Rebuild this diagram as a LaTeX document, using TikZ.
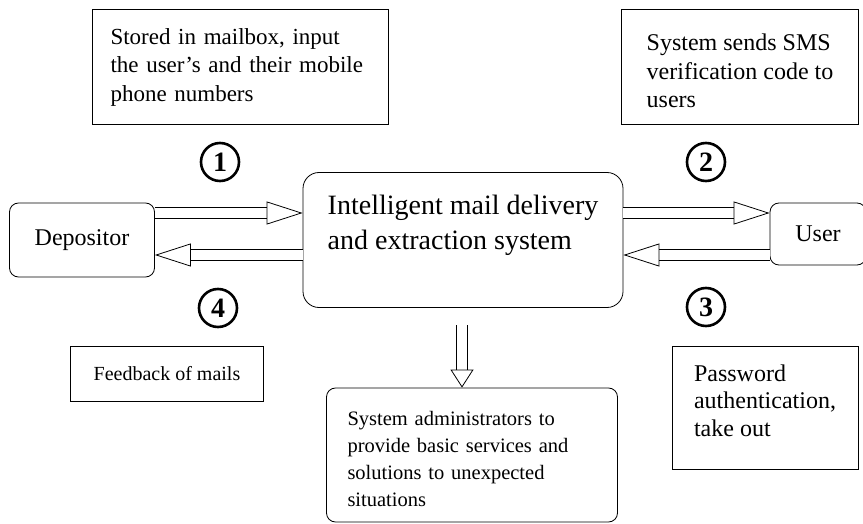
\documentclass[tikz,border=0pt]{standalone}
\usepackage{fontspec}
\setmainfont{Liberation Serif}
\usetikzlibrary{positioning}
\usetikzlibrary{arrows.meta}

\tikzset{
  note/.style={shape=rectangle, draw, thick, align=left, inner sep=0pt},
  party/.style={shape=rectangle, draw, thick, rounded corners=9pt},
  num/.style={shape=circle, draw, line width=2.6pt, inner sep=0pt, minimum size=38pt, font=\bfseries\fontsize{28}{28}\selectfont},
  shaft/.style={double, double distance=10.5pt, thick},
  headtip/.style={white, thick, -{Triangle[open, length=#1, width=23pt, color=black]}}
}
% hollow arrow: double shaft, open head
\newcommand{\hollowarrow}[3][36pt]{%
  \draw[shaft, shorten >=#1] #2 -- #3;
  \draw[headtip=#1] #2 -- #3;}

\begin{document}
\begin{tikzpicture}[x=1pt, y=-1pt]
      \useasboundingbox (0,0) rectangle (863,524);
      \clip (0,0) rectangle (863,524);

      \node[note, minimum width=296pt, minimum height=115pt, text width=259pt, font=\fontsize{23}{28.5}\selectfont] (stored) at (240,67) {Stored in mailbox, input\\the user's and their mobile\\phone numbers};
      \node[note, minimum width=237pt, minimum height=115pt, font=\fontsize{24}{28.5}\selectfont] (sms) at (740,67) {System sends SMS\\verification code to\\users\\[-36pt]~};

      \node[num] (n1) at (220,162) {1};
      \node[num] (n2) at (706,162) {2};
      \node[num] (n3) at (706,307) {3};
      \node[num] (n4) at (218,308) {4};

      \node[party, minimum width=145pt, minimum height=74pt, font=\fontsize{24}{28}\selectfont] (dep) at (82,240) {Depositor};
      \node[party, rounded corners=16pt, minimum width=320pt, minimum height=135pt, align=left, font=\fontsize{28}{35}\selectfont] (sys) at (463,240) {Intelligent mail delivery\\and extraction system\\~};
      \node[party, minimum width=96pt, minimum height=62pt, font=\fontsize{24}{28}\selectfont] (user) at (818,234) {User};

      \node[note, minimum width=193pt, minimum height=55pt, font=\fontsize{20}{24}\selectfont] (feed) at (167,374) {Feedback of mails};
      \node[note, minimum width=186pt, minimum height=123pt, font=\fontsize{24}{27.5}\selectfont] (pwd) at (765,408) {Password\\authentication,\\take out\\[-12pt]~};
      \node[party, minimum width=291pt, minimum height=134pt, text width=249pt, align=left, font=\fontsize{20.5}{27}\selectfont] (admin) at (472,455) {System administrators to\\provide basic services and\\solutions to unexpected\\situations\\[-35pt]~};

      \hollowarrow{(dep.east |- 0,213)}{(sys.west |- 0,213)}
      \hollowarrow{(sys.west |- 0,255)}{(dep.east |- 0,255)}
      \hollowarrow{(sys.east |- 0,213)}{(user.west |- 0,213)}
      \hollowarrow{(user.west |- 0,255)}{(sys.east |- 0,255)}
      \hollowarrow[18pt]{(462,325)}{(admin.north -| 462,0)}
\end{tikzpicture}
\end{document}
